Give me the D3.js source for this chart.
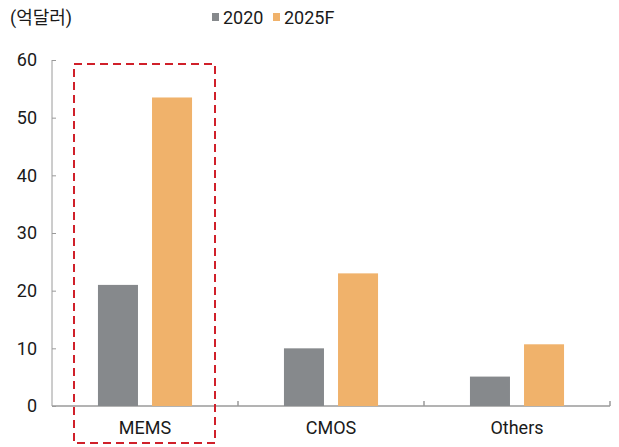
<!DOCTYPE html>
<html>
<head>
<meta charset="utf-8">
<script src="https://cdn.jsdelivr.net/npm/d3@7"></script>
<style>
  body { margin: 0; background: #fff; }
  text { font-family: Roboto, "Noto Sans CJK KR", sans-serif; fill: #1a1a1a; }
</style>
</head>
<body>
<svg id="chart"></svg>
<script>
// data
const categories = ["MEMS", "CMOS", "Others"];
const seriesNames = ["2020", "2025F"];
const values2020 = [21, 10, 5.1];
const values2025 = [53.5, 23, 10.7];
const yTicks = [0, 10, 20, 30, 40, 50, 60];

let width = 619;
let height = 447;
let margin = { top: 60, right: 9, bottom: 41, left: 52 };

let colors = ["#86898c", "#f0b26b"];

let svg = d3.select("#chart")
    .attr("width", width)
    .attr("height", height);

let xScale = d3.scaleBand()
    .domain(categories)
    .range([margin.left, width - margin.right]);

let xInner = d3.scaleBand()
    .domain(seriesNames)
    .range([0, xScale.bandwidth()])
    .paddingInner(0.26)
    .paddingOuter(0.85);

let yScale = d3.scaleLinear()
    .domain([0, 60])
    .range([height - margin.bottom, margin.top]);

// y axis: line with inward ticks
let yAxis = svg.append("g")
    .attr("transform", `translate(${margin.left}, 0)`)
    .call(d3.axisRight(yScale).tickValues(yTicks).tickSize(4).tickFormat(""));
yAxis.select(".domain").attr("stroke", "#9a9a9a").attr("d", `M0,${yScale(60)}V${yScale(0)}`);
yAxis.selectAll(".tick line").attr("stroke", "#9a9a9a");

// y tick labels
svg.selectAll(".ylab")
    .data(yTicks)
    .enter().append("text")
    .attr("class", "ylab")
    .attr("x", 37)
    .attr("y", d => yScale(d))
    .attr("dy", "0.35em")
    .attr("text-anchor", "end")
    .style("font-size", "18px")
    .text(d => d);

// x axis baseline with category boundary ticks
let base = yScale(0);
svg.append("line")
    .attr("x1", margin.left).attr("x2", width - margin.right)
    .attr("y1", base).attr("y2", base)
    .attr("stroke", "#9a9a9a").attr("stroke-width", 1.5);

svg.selectAll(".xtick")
    .data(categories)
    .enter().append("line")
    .attr("class", "xtick")
    .attr("x1", d => xScale(d) + xScale.bandwidth())
    .attr("x2", d => xScale(d) + xScale.bandwidth())
    .attr("y1", base)
    .attr("y2", base - 5)
    .attr("stroke", "#9a9a9a").attr("stroke-width", 1.5);

// bars
let rows = categories.map((c, i) => ({ cat: c, vals: [values2020[i], values2025[i]] }));

let groups = svg.selectAll(".grp")
    .data(rows)
    .enter().append("g")
    .attr("class", "grp")
    .attr("transform", d => `translate(${xScale(d.cat)}, 0)`);

groups.selectAll("rect")
    .data(d => d.vals.map((v, j) => ({ name: seriesNames[j], v: v, j: j })))
    .enter().append("rect")
    .attr("x", d => xInner(d.name))
    .attr("width", xInner.bandwidth())
    .attr("y", d => yScale(d.v))
    .attr("height", d => base - yScale(d.v))
    .attr("fill", d => colors[d.j]);

// category labels
svg.selectAll(".xlab")
    .data(categories)
    .enter().append("text")
    .attr("class", "xlab")
    .attr("x", d => xScale(d) + xScale.bandwidth() / 2)
    .attr("y", 434)
    .attr("text-anchor", "middle")
    .style("font-size", "18px")
    .text(d => d);

// dashed highlight box around MEMS
svg.append("rect")
    .attr("x", 74)
    .attr("y", 64)
    .attr("width", 141)
    .attr("height", 379)
    .attr("fill", "none")
    .attr("stroke", "#d0202a")
    .attr("stroke-width", 2)
    .attr("stroke-dasharray", "8,5");

// unit label
svg.append("text")
    .attr("x", 10)
    .attr("y", 24)
    .style("font-size", "18px")
    .text("(억달러)");

// legend
let legendX = [212, 273];
let legend = svg.selectAll(".leg")
    .data(seriesNames)
    .enter().append("g")
    .attr("class", "leg")
    .attr("transform", (d, i) => `translate(${legendX[i]}, 0)`);

legend.append("rect")
    .attr("x", 0).attr("y", 13)
    .attr("width", 7).attr("height", 8)
    .attr("fill", (d, i) => colors[i]);

legend.append("text")
    .attr("x", 11)
    .attr("y", 24)
    .style("font-size", "18px")
    .text(d => d);
</script>
</body>
</html>
